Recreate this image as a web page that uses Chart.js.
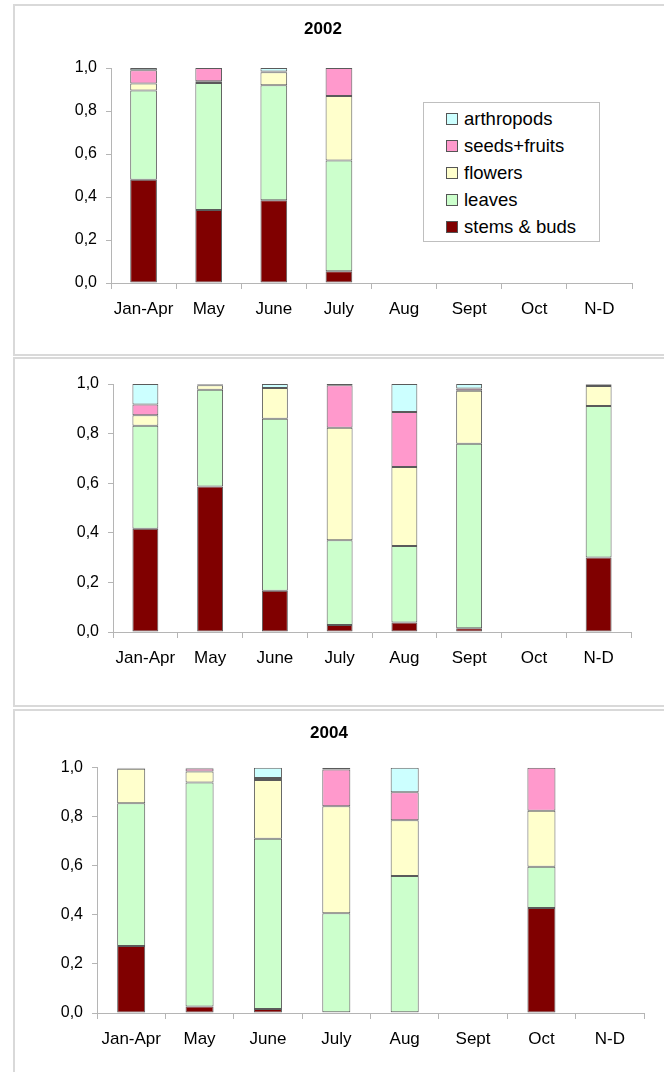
<!DOCTYPE html>
<html>
<head>
<meta charset="utf-8">
<script src="https://cdn.jsdelivr.net/npm/chart.js@4"></script>
<style>
    html, body { margin: 0; padding: 0; background: #fff; width: 664px; height: 1072px; overflow: hidden; }
    .panel { position: absolute; left: 13px; width: 700px; border: 2px solid #d9d9d9; box-sizing: border-box; }
    canvas { position: absolute; left: 14px; }
    #legend2002 {
        position: absolute; left: 423px; top: 102px; width: 177px; height: 140px;
        border: 1px solid #bfbfbf; background: #fff; box-sizing: border-box;
        font-family: "Liberation Sans", Arial, sans-serif; font-size: 18.5px; color: #000;
    }
    #legend2002 ul { list-style: none; margin: 2px 0 0 0; padding: 0 0 0 22px; }
    #legend2002 li { height: 27px; display: flex; align-items: center; white-space: nowrap; }
    #legend2002 .sw { width: 12px; height: 12px; border: 1px solid #555; box-sizing: border-box; margin-right: 6px; }
</style>
</head>
<body>
<div class="panel" style="top:4px;height:352px;"></div>
<div class="panel" style="top:357px;height:350px;"></div>
<div class="panel" style="top:709px;height:380px;"></div>

<canvas id="chart2002" width="662" height="350" style="top:5px;"></canvas>
<canvas id="chart2003" width="662" height="348" style="top:358px;"></canvas>
<canvas id="chart2004" width="662" height="362" style="top:710px;"></canvas>
<div id="legend2002"></div>

<script>
// Категории и серии
const months = ['Jan-Apr', 'May', 'June', 'July', 'Aug', 'Sept', 'Oct', 'N-D'];
const seriesNames = ['stems & buds', 'leaves', 'flowers', 'seeds+fruits', 'arthropods'];
const seriesColors = ['#800000', '#CCFFCC', '#FFFFCC', '#FF99CC', '#CCFFFF'];

// 2002
const stems2002   = [0.480, 0.340, 0.385, 0.055, null, null, null, null];
const leaves2002  = [0.415, 0.590, 0.535, 0.515, null, null, null, null];
const flowers2002 = [0.033, 0.008, 0.060, 0.300, null, null, null, null];
const seeds2002   = [0.062, 0.062, 0.004, 0.130, null, null, null, null];
const arthro2002  = [0.010, null,  0.016, null,  null, null, null, null];

// 2003 (панель без заголовка)
const stems2003   = [0.416, 0.587, 0.166, 0.028, 0.038, 0.015, null, 0.300];
const leaves2003  = [0.416, 0.390, 0.694, 0.342, 0.309, 0.744, null, 0.611];
const flowers2003 = [0.042, 0.018, 0.124, 0.454, 0.318, 0.214, null, 0.081];
const seeds2003   = [0.043, 0.003, null,  0.171, 0.222, 0.009, null, 0.006];
const arthro2003  = [0.083, 0.002, 0.016, 0.005, 0.113, 0.018, null, 0.002];

// 2004
const stems2004   = [0.273, 0.026, 0.016, 0.003, 0.003, null, 0.428, null];
const leaves2004  = [0.582, 0.914, 0.694, 0.404, 0.555, null, 0.168, null];
const flowers2004 = [0.141, 0.045, 0.240, 0.436, 0.228, null, 0.228, null];
const seeds2004   = [0.002, 0.012, 0.008, 0.150, 0.114, null, 0.176, null];
const arthro2004  = [0.002, 0.003, 0.042, 0.007, 0.100, null, null,  null];

const FONT = '"Liberation Sans", Arial, sans-serif';
const AXIS_GREY = '#b5b5b5';

// HTML-легенда (элементы в обратном порядке, как в Excel)
const htmlLegend = {
    id: 'htmlLegend',
    afterUpdate(chart, args, opts) {
        if (!opts.containerID) return;
        const box = document.getElementById(opts.containerID);
        const items = chart.options.plugins.legend.labels.generateLabels(chart).slice().reverse();
        let html = '<ul>';
        items.forEach(it => {
            html += `<li><span class="sw" style="background:${it.fillStyle}"></span><span>${it.text}</span></li>`;
        });
        html += '</ul>';
        box.innerHTML = html;
    }
};

function makePanel(canvasId, title, series, lay) {
    const datasets = series.map((data, i) => ({
        label: seriesNames[i],
        data: data,
        backgroundColor: seriesColors[i],
        borderColor: '#5a5a5a',
        borderWidth: 1,
        borderSkipped: false,
        barPercentage: lay.barPct,
        categoryPercentage: 1.0
    }));

    const ctx = document.getElementById(canvasId).getContext('2d');
    return new Chart(ctx, {
        type: 'bar',
        data: { labels: months, datasets: datasets },
        plugins: [htmlLegend],
        options: {
            responsive: false,
            animation: false,
            layout: { padding: { left: 0, right: lay.padRight, top: lay.padTop, bottom: 0 } },
            plugins: {
                legend: { display: false },
                tooltip: { enabled: false },
                htmlLegend: { containerID: lay.legendId || null },
                title: {
                    display: !!title,
                    text: title,
                    color: '#000',
                    font: { family: FONT, size: 17, weight: 'bold', lineHeight: 1.2 },
                    padding: { top: lay.titleTop || 0, bottom: lay.titleBottom || 0 }
                }
            },
            scales: {
                x: {
                    stacked: true,
                    grid: { display: true, drawOnChartArea: false, drawTicks: true, tickLength: 6, color: AXIS_GREY, offset: true },
                    border: { color: AXIS_GREY, width: 1 },
                    ticks: { color: '#000', font: { family: FONT, size: 17 }, padding: 10, maxRotation: 0, autoSkip: false },
                    afterFit: s => { s.height = lay.xHeight; }
                },
                y: {
                    stacked: true,
                    min: 0,
                    max: 1,
                    grid: { display: true, drawOnChartArea: false, drawTicks: true, tickLength: 5, color: AXIS_GREY },
                    border: { color: AXIS_GREY, width: 1 },
                    ticks: {
                        stepSize: 0.2,
                        color: '#000',
                        font: { family: FONT, size: 16 },
                        padding: 9,
                        callback: v => v.toFixed(1).replace('.', ',')
                    },
                    afterFit: s => { s.width = lay.yWidth; }
                }
            }
        }
    });
}

makePanel('chart2002', '2002',
    [stems2002, leaves2002, flowers2002, seeds2002, arthro2002],
    { yWidth: 97, padRight: 44, padTop: 0, titleTop: 14, titleBottom: 28.6, xHeight: 72, barPct: 0.41, legendId: 'legend2002' });

makePanel('chart2003', '',
    [stems2003, leaves2003, flowers2003, seeds2003, arthro2003],
    { yWidth: 99, padRight: 45, padTop: 26, xHeight: 74, barPct: 0.40 });

makePanel('chart2004', '2004',
    [stems2004, leaves2004, flowers2004, seeds2004, arthro2004],
    { yWidth: 83, padRight: 32, padTop: 0, titleTop: 12.8, titleBottom: 24.5, xHeight: 59, barPct: 0.41 });
</script>
</body>
</html>
